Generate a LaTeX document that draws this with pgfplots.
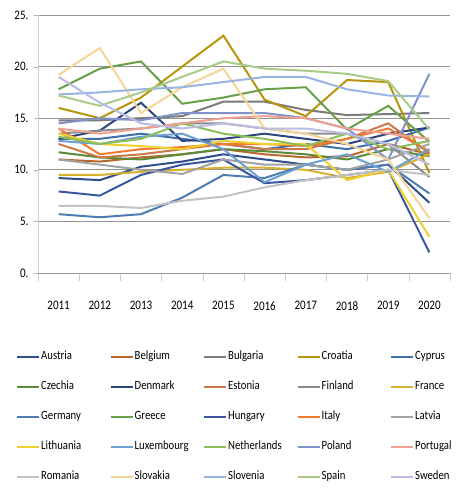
\documentclass[border=0pt]{standalone}
\usepackage{pgfplots}
\pgfplotsset{compat=1.18}
\usepackage{fontspec}
\setmainfont{Carlito}[FakeStretch=0.85]
\definecolor{cAustria}{HTML}{2F4C8C}
\definecolor{cBelgium}{HTML}{B8682E}
\definecolor{cBulgaria}{HTML}{7A7A7A}
\definecolor{cCroatia}{HTML}{B8940C}
\definecolor{cCyprus}{HTML}{3F70AA}
\definecolor{cCzechia}{HTML}{5A8A3A}
\definecolor{cDenmark}{HTML}{2C4480}
\definecolor{cEstonia}{HTML}{C97A48}
\definecolor{cFinland}{HTML}{8C8C8C}
\definecolor{cFrance}{HTML}{D8B030}
\definecolor{cGermany}{HTML}{4C7CB2}
\definecolor{cGreece}{HTML}{68A048}
\definecolor{cHungary}{HTML}{3A56A0}
\definecolor{cItaly}{HTML}{F07A30}
\definecolor{cLatvia}{HTML}{A2A2A2}
\definecolor{cLithuania}{HTML}{F0D030}
\definecolor{cLuxembourg}{HTML}{6CA0D2}
\definecolor{cNetherlands}{HTML}{8CBF5A}
\definecolor{cPoland}{HTML}{8092CA}
\definecolor{cPortugal}{HTML}{F0A090}
\definecolor{cRomania}{HTML}{C2C2C2}
\definecolor{cSlovakia}{HTML}{F6D496}
\definecolor{cSlovenia}{HTML}{9AB4E2}
\definecolor{cSpain}{HTML}{A8CC88}
\definecolor{cSweden}{HTML}{BCBCE2}
\newcommand{\legE}[1]{\addlegendentry{\makebox[67.5pt][l]{#1}}}
\begin{document}
\fontsize{13}{15}\selectfont
\begin{tikzpicture}
\path[use as bounding box] (-38pt,-217pt) rectangle (423pt,273pt);
\begin{axis}[
  at={(0,0)}, anchor=south west,
  scale only axis, width=412pt, height=258pt,
  xmin=-0.5, xmax=9.5, ymin=0, ymax=25,
  axis lines*=left,
  x axis line style={draw=gray!80, line width=0.8pt},
  y axis line style={draw=gray!35, line width=0.8pt},
  xtick={0,...,9},
  xticklabels={2011,2012,2013,2014,2015,2016,2017,2018,2019,2020},
  major x tick style={draw=none},
  minor xtick={-0.5,0.5,...,9.5},
  minor x tick style={draw=gray!40, line width=0.6pt},
  minor tick length=8pt,
  tick align=outside,
  ytick={0,5,...,25},
  yticklabels={0.,5.,10.,15.,20.,25.},
  major y tick style={draw=gray!60},
  major tick length=4pt,
  ymajorgrids,
  grid style={draw=gray!85, line width=0.8pt},
  xticklabel style={yshift=-20pt, font=\fontsize{13}{15}\selectfont},
  yticklabel style={xshift=-1pt, font=\fontsize{13}{15}\selectfont},
  /pgf/number format/assume math mode=true,
  every axis plot/.append style={line width=2pt, no markers},
  legend columns=5,
  legend style={at={(0,0)}, anchor=north west, xshift=-22pt, yshift=-77pt,
    draw=none, fill=none, font=\fontsize{12.6}{15}\selectfont,
    row sep=17.3pt, inner sep=0pt, nodes={inner sep=1pt}},
  legend cell align=left,
  legend image code/.code={\draw[#1, line width=2pt] (0pt,0pt) -- (22pt,0pt);},
]
\addplot[cAustria] coordinates {(0,9.2)(1,9.0)(2,10.3)(3,10.8)(4,11.5)(5,11.0)(6,10.5)(7,10.0)(8,10.5)(9,6.8)}; \legE{Austria}
\addplot[cBelgium] coordinates {(0,11.0)(1,10.8)(2,11.2)(3,11.5)(4,12.0)(5,11.5)(6,11.2)(7,11.3)(8,12.5)(9,11.5)}; \legE{Belgium}
\addplot[cBulgaria] coordinates {(0,14.8)(1,14.8)(2,15.0)(3,15.2)(4,16.6)(5,16.6)(6,15.8)(7,15.3)(8,15.4)(9,15.5)}; \legE{Bulgaria}
\addplot[cCroatia] coordinates {(0,16.0)(1,15.0)(2,17.0)(3,20.0)(4,23.0)(5,16.8)(6,15.2)(7,18.7)(8,18.5)(9,9.7)}; \legE{Croatia}
\addplot[cCyprus] coordinates {(0,13.0)(1,13.0)(2,13.5)(3,13.0)(4,12.5)(5,12.0)(6,12.5)(7,12.0)(8,12.8)(9,14.1)}; \legE{Cyprus}
\addplot[cCzechia] coordinates {(0,11.7)(1,11.2)(2,11.0)(3,11.5)(4,12.0)(5,11.8)(6,11.5)(7,11.0)(8,12.0)(9,11.3)}; \legE{Czechia}
\addplot[cDenmark] coordinates {(0,13.0)(1,13.8)(2,16.5)(3,12.8)(4,13.0)(5,13.5)(6,13.0)(7,12.5)(8,13.5)(9,14.1)}; \legE{Denmark}
\addplot[cEstonia] coordinates {(0,12.5)(1,11.2)(2,11.5)(3,12.0)(4,12.5)(5,12.0)(6,12.0)(7,13.0)(8,14.5)(9,11.6)}; \legE{Estonia}
\addplot[cFinland] coordinates {(0,13.5)(1,13.8)(2,14.0)(3,14.5)(4,14.5)(5,14.0)(6,13.5)(7,13.5)(8,12.5)(9,9.3)}; \legE{Finland}
\addplot[cFrance] coordinates {(0,9.5)(1,9.5)(2,9.8)(3,10.0)(4,10.2)(5,10.2)(6,10.0)(7,9.2)(8,9.8)(9,11.5)}; \legE{France}
\addplot[cGermany] coordinates {(0,5.7)(1,5.4)(2,5.7)(3,7.3)(4,9.5)(5,9.2)(6,10.5)(7,10.0)(8,10.5)(9,7.7)}; \legE{Germany}
\addplot[cGreece] coordinates {(0,17.8)(1,19.8)(2,20.5)(3,16.4)(4,17.0)(5,17.8)(6,18.0)(7,13.9)(8,16.2)(9,12.7)}; \legE{Greece}
\addplot[cHungary] coordinates {(0,7.9)(1,7.5)(2,9.5)(3,10.5)(4,11.0)(5,8.7)(6,9.0)(7,9.5)(8,10.0)(9,2.0)}; \legE{Hungary}
\addplot[cItaly] coordinates {(0,14.0)(1,11.5)(2,12.0)(3,12.2)(4,12.5)(5,12.5)(6,12.3)(7,13.0)(8,14.0)(9,11.8)}; \legE{Italy}
\addplot[cLatvia] coordinates {(0,11.0)(1,10.5)(2,10.0)(3,9.6)(4,11.0)(5,10.5)(6,10.5)(7,10.0)(8,11.0)(9,12.5)}; \legE{Latvia}
\addplot[cLithuania] coordinates {(0,13.5)(1,12.5)(2,12.3)(3,12.0)(4,12.8)(5,12.5)(6,12.5)(7,9.0)(8,10.0)(9,3.5)}; \legE{Lithuania}
\addplot[cLuxembourg] coordinates {(0,12.8)(1,12.5)(2,13.2)(3,13.5)(4,12.0)(5,8.8)(6,10.5)(7,11.5)(8,9.8)(9,12.0)}; \legE{Luxembourg}
\addplot[cNetherlands] coordinates {(0,13.2)(1,12.5)(2,13.0)(3,14.5)(4,13.5)(5,13.0)(6,12.3)(7,13.5)(8,12.0)(9,12.8)}; \legE{Netherlands}
\addplot[cPoland] coordinates {(0,14.5)(1,15.0)(2,14.8)(3,15.5)(4,15.5)(5,15.5)(6,15.0)(7,14.0)(8,11.0)(9,19.3)}; \legE{Poland}
\addplot[cPortugal] coordinates {(0,14.0)(1,13.5)(2,14.0)(3,14.5)(4,15.0)(5,15.2)(6,15.0)(7,14.0)(8,13.5)(9,13.0)}; \legE{Portugal}
\addplot[cRomania] coordinates {(0,6.5)(1,6.5)(2,6.3)(3,7.0)(4,7.4)(5,8.3)(6,9.0)(7,9.5)(8,10.0)(9,9.5)}; \legE{Romania}
\addplot[cSlovakia] coordinates {(0,19.2)(1,21.8)(2,15.5)(3,18.0)(4,19.8)(5,14.0)(6,13.5)(7,12.5)(8,11.0)(9,5.3)}; \legE{Slovakia}
\addplot[cSlovenia] coordinates {(0,17.3)(1,17.5)(2,17.8)(3,18.0)(4,18.5)(5,19.0)(6,19.0)(7,17.8)(8,17.2)(9,17.1)}; \legE{Slovenia}
\addplot[cSpain] coordinates {(0,17.2)(1,16.2)(2,17.5)(3,19.0)(4,20.5)(5,19.8)(6,19.6)(7,19.3)(8,18.6)(9,13.9)}; \legE{Spain}
\addplot[cSweden] coordinates {(0,19.0)(1,16.5)(2,14.5)(3,14.0)(4,14.5)(5,14.0)(6,14.0)(7,13.5)(8,12.5)(9,10.5)}; \legE{Sweden}
\end{axis}
\end{tikzpicture}
\end{document}
